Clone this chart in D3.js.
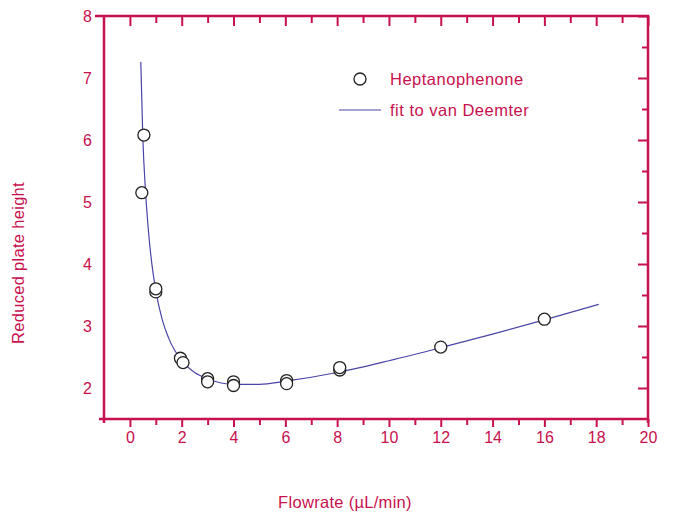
<html>
<head>
<meta charset="utf-8">
<script src="https://d3js.org/d3.v7.min.js"></script>
<style>
    body { margin: 0; background: #fff; }
    svg { font-family: "Liberation Sans", Arial, sans-serif; }
    .lab { fill: #c8104e; }
</style>
</head>
<body>
<div id="chart"></div>
<script>
// measured points: flowrate (uL/min) and reduced plate height
var flowrate = [0.46, 0.54, 1.0, 1.0, 1.95, 2.05, 3.0, 3.0, 4.0, 4.0, 6.05, 6.05, 8.1, 8.1, 12.0, 16.0];
var plateHeight = [5.15, 6.08, 3.55, 3.60, 2.48, 2.41, 2.15, 2.10, 2.10, 2.04, 2.12, 2.07, 2.29, 2.33, 2.66, 3.11];

// van Deemter fit line
var fitX = [0.42, 0.5, 0.6, 0.7, 0.8, 1.0, 1.25, 1.5, 2, 2.5, 3, 4, 5, 6, 8, 10, 12, 14, 16, 18.1];
var fitY = [7.26, 6.02, 5.19, 4.61, 4.17, 3.57, 3.10, 2.80, 2.44, 2.25, 2.15, 2.06, 2.06, 2.11, 2.25, 2.44, 2.65, 2.87, 3.10, 3.35];

var xTicks = d3.range(0, 21, 1);
var yTicks = [2, 3, 4, 5, 6, 7, 8];
var yMinor = d3.range(2, 8.01, 0.5);

var legendLabels = ["Heptanophenone", "fit to van Deemter"];

var red = "#c8104e";
var width = 674, height = 514;

var svg = d3.select("#chart").append("svg")
    .attr("width", width)
    .attr("height", height);

var x = d3.scaleLinear().domain([-1, 20]).range([104, 648]);
var y = d3.scaleLinear().domain([1.5, 8]).range([419, 16]);

/* axes */
var xBottom = d3.axisBottom(x).tickValues(xTicks)
    .tickSize(0).tickSizeOuter(0)
    .tickFormat(d => d % 2 === 0 ? d : "");
var gb = svg.append("g").attr("transform", `translate(0, ${y(1.5)})`).call(xBottom);
gb.select(".domain").remove();
gb.selectAll(".tick line")
    .attr("y2", d => d % 2 === 0 ? 8 : 6)
    .attr("stroke", red).attr("stroke-width", 2);
gb.selectAll(".tick text")
    .attr("y", 13).attr("dy", "0.71em")
    .attr("fill", red).style("font-size", "16px");

var xTop = d3.axisTop(x).tickValues(xTicks).tickSize(0).tickFormat("");
var gt = svg.append("g").attr("transform", `translate(0, ${y(8)})`).call(xTop);
gt.select(".domain").remove();
gt.selectAll(".tick line")
    .attr("y2", d => d % 2 === 0 ? 10 : 7)
    .attr("stroke", red).attr("stroke-width", 2);

var yLeft = d3.axisLeft(y).tickValues(yTicks).tickSize(0).tickFormat(d3.format("d"));
var gl = svg.append("g").attr("transform", `translate(${x(-1)}, 0)`).call(yLeft);
gl.select(".domain").remove();
gl.selectAll(".tick line").remove();
gl.selectAll(".tick text")
    .attr("x", -12)
    .attr("fill", red).style("font-size", "16px");

var yRight = d3.axisRight(y).tickValues(yMinor).tickSize(0).tickFormat("");
var gr = svg.append("g").attr("transform", `translate(${x(20)}, 0)`).call(yRight);
gr.select(".domain").remove();
gr.selectAll(".tick line")
    .attr("x2", d => d % 1 === 0 ? -10 : -6)
    .attr("stroke", red).attr("stroke-width", 2);

/* frame */
var frame = svg.append("g").attr("stroke", red).attr("stroke-width", 2.5).attr("fill", "none");
frame.append("line").attr("x1", 95).attr("x2", x(20) + 1).attr("y1", y(8)).attr("y2", y(8));
frame.append("line").attr("x1", 99).attr("x2", x(20) + 1).attr("y1", y(1.5)).attr("y2", y(1.5));
frame.append("line").attr("x1", x(-1)).attr("x2", x(-1)).attr("y1", y(8) - 1).attr("y2", y(1.5) + 4);
frame.append("line").attr("x1", x(20)).attr("x2", x(20)).attr("y1", y(8) - 1).attr("y2", y(1.5) + 4);

/* fit line */
var fitData = fitX.map((d, i) => ({ x: d, y: fitY[i] }));
var line = d3.line()
    .x(d => x(d.x))
    .y(d => y(d.y))
    .curve(d3.curveMonotoneX);

svg.append("path")
    .datum(fitData)
    .attr("d", line)
    .attr("fill", "none")
    .attr("stroke", "#4b44a8")
    .attr("stroke-width", 1.2);

/* points */
var points = flowrate.map((d, i) => ({ x: d, y: plateHeight[i] }));
svg.append("g").selectAll("circle")
    .data(points).enter()
    .append("circle")
    .attr("cx", d => x(d.x))
    .attr("cy", d => y(d.y))
    .attr("r", 6)
    .attr("fill", "#fff")
    .attr("stroke", "#222")
    .attr("stroke-width", 1.3);

/* legend */
var legend = svg.append("g");
legend.append("circle")
    .attr("cx", 360).attr("cy", 79).attr("r", 6)
    .attr("fill", "#fff").attr("stroke", "#222").attr("stroke-width", 1.3);
legend.append("line")
    .attr("x1", 339).attr("x2", 381).attr("y1", 110).attr("y2", 110)
    .attr("stroke", "#4b44a8").attr("stroke-width", 1.2);
legend.selectAll("text")
    .data(legendLabels).enter()
    .append("text")
    .attr("class", "lab")
    .attr("x", 390)
    .attr("y", (d, i) => 79 + i * 31)
    .attr("dy", "0.36em")
    .style("font-size", "16.5px")
    .style("letter-spacing", "0.5px")
    .text(d => d);

/* axis titles */
svg.append("text")
    .attr("class", "lab")
    .attr("x", 345).attr("y", 502)
    .attr("dy", "0.36em")
    .attr("text-anchor", "middle")
    .style("font-size", "16.5px")
    .style("letter-spacing", "0.3px")
    .text("Flowrate (\u00b5L/min)");

svg.append("text")
    .attr("class", "lab")
    .attr("transform", "translate(18, 263) rotate(-90)")
    .attr("dy", "0.36em")
    .attr("text-anchor", "middle")
    .style("font-size", "16.5px")
    .style("letter-spacing", "0.3px")
    .text("Reduced plate height");
</script>
</body>
</html>
